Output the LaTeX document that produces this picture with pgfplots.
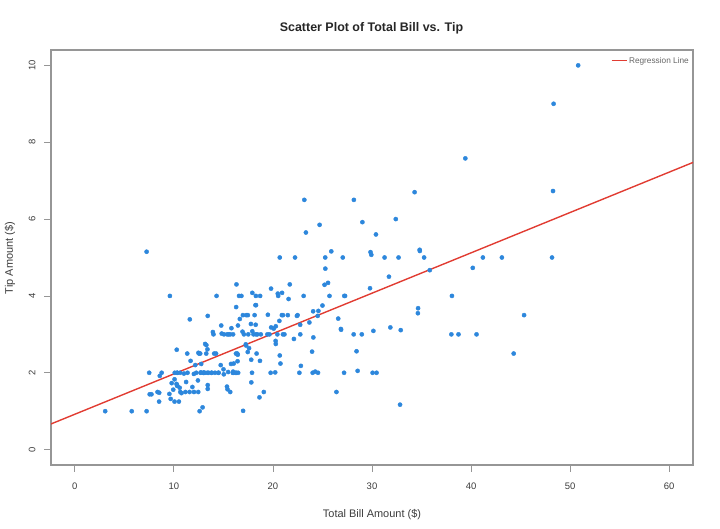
\documentclass[border=0pt]{standalone}
\usepackage{pgfplots}
\pgfplotsset{compat=1.18}
\usepackage{pgfplotstable}
\usepackage{fontspec}
\setmainfont{Liberation Sans}
\definecolor{ptblue}{RGB}{45,135,220}
\definecolor{regred}{RGB}{225,60,50}
\definecolor{axgray}{RGB}{150,150,150}
\definecolor{txtgray}{RGB}{60,60,60}
\pgfplotstableread{
bill tip
16.99 1.01
10.34 1.66
21.01 3.50
23.68 3.31
24.59 3.61
25.29 4.71
8.77 2.00
26.88 3.12
15.04 1.96
14.78 3.23
10.27 1.71
35.26 5.00
15.42 1.57
18.43 3.00
14.83 3.02
21.58 3.92
10.33 1.67
16.29 3.71
16.97 3.50
20.65 3.35
17.92 4.08
20.29 2.75
15.77 2.23
39.42 7.58
19.82 3.18
17.81 2.34
13.37 2.00
12.69 2.00
21.70 4.30
19.65 3.00
9.55 1.45
18.35 2.50
15.06 3.00
20.69 2.45
17.78 3.27
24.06 3.60
16.31 2.00
16.93 3.07
18.69 2.31
31.27 5.00
16.04 2.24
17.46 2.54
13.94 3.06
9.68 1.32
30.40 5.60
18.29 3.00
22.23 5.00
32.40 6.00
28.55 2.05
18.04 3.00
12.54 2.50
10.29 2.60
34.81 5.20
9.94 1.56
25.56 4.34
19.49 3.51
38.01 3.00
26.41 1.50
11.24 1.76
48.27 6.73
20.29 3.21
13.81 2.00
11.02 1.98
18.29 3.76
17.59 2.64
20.08 3.15
16.45 2.47
3.07 1.00
20.23 2.01
15.01 2.09
12.02 1.97
17.07 3.00
26.86 3.14
25.28 5.00
14.73 2.20
10.51 1.25
17.92 3.08
27.20 4.00
22.76 3.00
17.29 2.71
19.44 3.00
16.66 3.40
10.07 1.83
32.68 5.00
15.98 2.03
34.83 5.17
13.03 2.00
18.28 4.00
24.71 5.85
21.16 3.00
28.97 3.00
22.49 3.50
5.75 1.00
16.32 4.30
22.75 3.25
40.17 4.73
27.28 4.00
12.03 1.50
21.01 3.00
12.46 1.50
11.35 2.50
15.38 3.00
44.30 2.50
22.42 3.48
20.92 4.08
15.36 1.64
20.49 4.06
25.21 4.29
18.24 3.76
14.31 4.00
14.00 3.00
7.25 1.00
38.07 4.00
23.95 2.55
25.71 4.00
17.31 3.50
29.93 5.07
10.65 1.50
12.43 1.80
24.08 2.92
11.69 2.31
13.42 1.68
14.26 2.50
15.95 2.00
12.48 2.52
29.80 4.20
8.52 1.48
14.52 2.00
11.38 2.00
22.82 2.18
19.08 1.50
20.27 2.83
11.17 1.50
12.26 2.00
18.26 3.25
8.51 1.25
10.33 2.00
14.15 2.00
16.00 2.00
13.16 2.75
17.47 3.50
34.30 6.70
41.19 5.00
27.05 5.00
16.43 2.30
8.35 1.50
18.64 1.36
11.87 1.63
9.78 1.73
7.51 2.00
14.07 2.50
13.13 2.00
17.26 2.74
24.55 2.00
19.77 2.00
29.85 5.14
48.17 5.00
25.00 3.75
13.39 2.61
16.49 2.00
21.50 3.50
12.66 2.50
16.21 2.00
13.81 2.00
17.51 3.00
24.52 3.48
20.76 2.24
31.71 4.50
10.59 1.61
10.63 2.00
50.81 10.00
15.81 3.16
7.25 5.15
31.85 3.18
16.82 4.00
32.90 3.11
17.89 2.00
14.48 2.00
9.60 4.00
34.63 3.55
34.65 3.68
23.33 5.65
45.35 3.50
23.17 6.50
40.55 3.00
20.69 5.00
20.90 3.50
30.46 2.00
18.15 3.50
23.10 4.00
15.69 1.50
19.81 4.19
28.44 2.56
15.48 2.02
16.58 4.00
7.56 1.44
10.34 2.00
43.11 5.00
13.00 2.00
13.51 2.00
18.71 4.00
12.74 2.01
13.00 2.00
16.40 2.50
20.53 4.00
16.47 3.23
26.59 3.41
38.73 3.00
24.27 2.03
12.76 2.23
30.06 2.00
25.89 5.16
48.33 9.00
13.27 2.50
28.17 6.50
12.90 1.10
28.15 3.00
11.59 1.50
7.74 1.44
30.14 3.09
12.16 2.20
13.42 3.48
8.58 1.92
15.98 3.00
13.42 1.58
16.27 2.50
10.09 2.00
20.45 3.00
13.28 2.72
22.12 2.88
24.01 2.00
15.69 3.00
11.61 3.39
10.77 1.47
15.53 3.00
10.07 1.25
12.60 1.00
32.83 1.17
35.83 4.67
29.03 5.92
27.18 2.00
22.67 2.00
17.82 1.75
18.78 3.00
}\tips
\pgfplotstableread{
x y
-2.4 0.668
62.4 7.474
}\regline
\begin{document}
\begin{tikzpicture}
\useasboundingbox (0,0) rectangle (720bp,529bp);
\begin{axis}[
  at={(51bp,64bp)}, anchor=south west,
  scale only axis, width=642bp, height=415bp,
  xmin=-2.4, xmax=62.4, ymin=-0.4, ymax=10.4,
  xtick={0,10,20,30,40,50,60},
  ytick={0,2,4,6,8,10},
  xtick pos=left, ytick pos=left,
  tick align=outside, major tick length=7bp,
  axis line style={axgray, line width=1.3bp},
  tick style={axgray, line width=0.8bp},
  /pgf/number format/assume math mode=true,
  ticklabel style={font=\fontsize{9.5}{10}\selectfont, text=txtgray},
  xticklabel shift=7bp,
  yticklabel shift=5bp,
  yticklabel style={rotate=90, anchor=south},
  legend style={draw=none, fill=none, at={(1,1)}, anchor=north east,
    font=\fontsize{8.3}{9}\selectfont, text=black!60, inner sep=1bp,
    xshift=-1bp, yshift=-4bp},
  legend image code/.code={\draw[#1, line width=1bp] (0bp,0bp) -- (15bp,0bp);},
  clip=true,
]
\addplot[only marks, mark=*, mark size=2.1bp, color=ptblue, mark options={draw=ptblue, fill=ptblue}, forget plot] table[x=bill, y=tip] {\tips};
\addplot[regred, line width=1.4bp] table[x=x, y=y] {\regline};
\addlegendentry{Regression Line}
\end{axis}
\node[font=\bfseries\fontsize{12.5}{14}\selectfont, text=black!85] at (371.5bp,501bp) {Scatter Plot of Total Bill vs. Tip};
\node[font=\fontsize{11}{12}\selectfont, text=txtgray] at (372bp,14bp) {Total Bill Amount (\$)};
\node[font=\fontsize{11}{12}\selectfont, text=txtgray, rotate=90] at (10bp,271bp) {Tip Amount (\$)};
\end{tikzpicture}
\end{document}
